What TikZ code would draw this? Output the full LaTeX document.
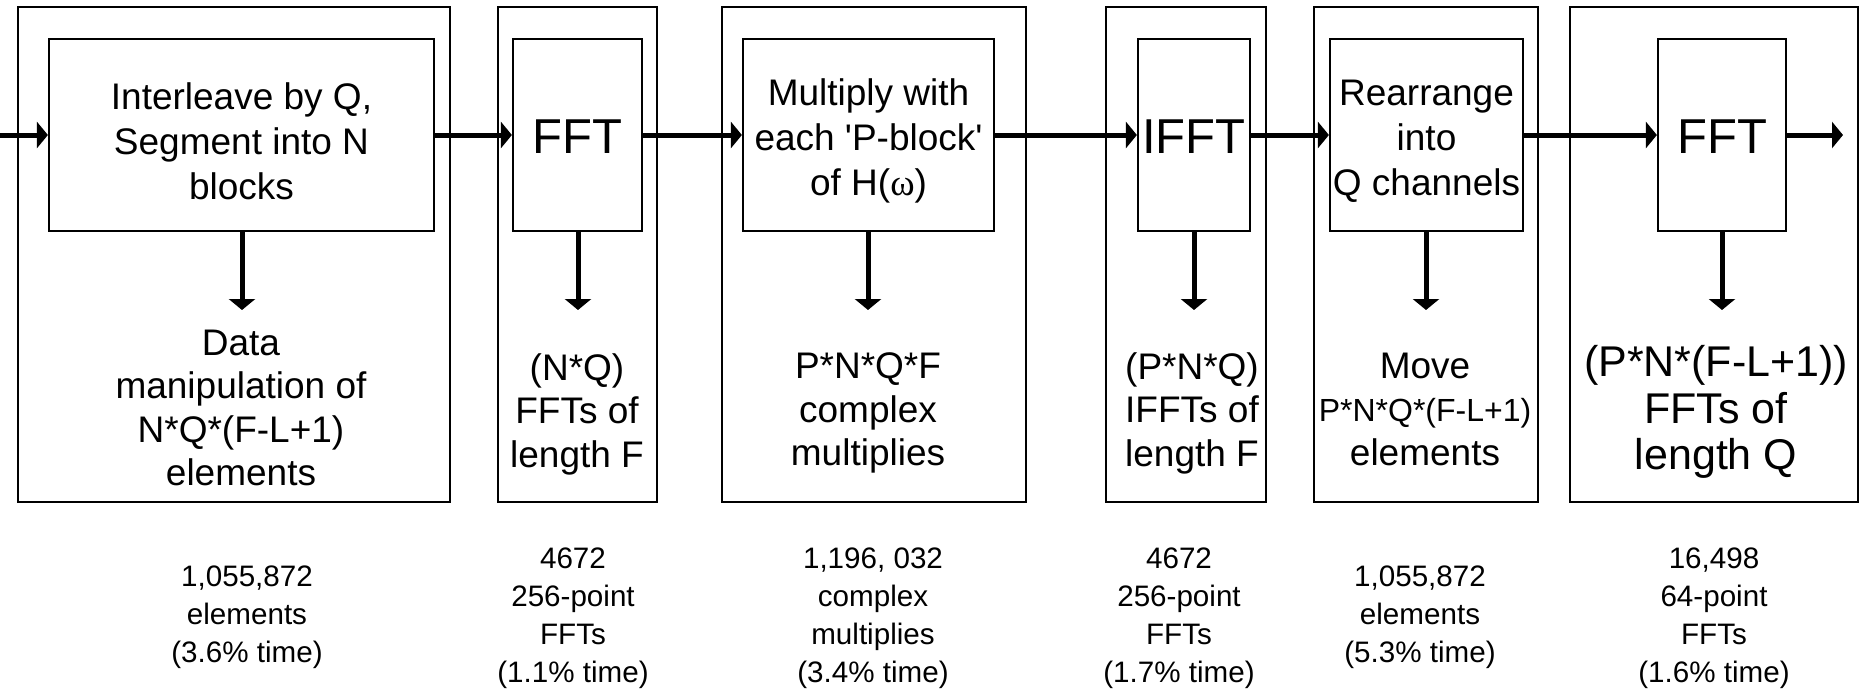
\documentclass[tikz,border=0pt]{standalone}
\usepackage{fontspec}
\setmainfont{Liberation Sans}
\newfontfamily\greekserif{Liberation Serif}
\usetikzlibrary{arrows.meta}

\begin{document}
\begin{tikzpicture}[x=0.5pt,y=-0.5pt,
  frame/.style={draw, line width=1.1pt, inner sep=0pt, minimum height=247.5pt},
  stagebox/.style={draw, line width=1.1pt, inner sep=0pt, minimum height=96pt},
  stagetext/.style={align=center, inner sep=0pt, font=\fontsize{18.5}{22.5}\selectfont},
  bigtext/.style={inner sep=0pt, font=\fontsize{24.5}{28}\selectfont},
  desc/.style={align=center, inner sep=0pt, font=\fontsize{18.5}{21.75}\selectfont},
  bigdesc/.style={align=center, inner sep=0pt, font=\fontsize{21.5}{23.4}\selectfont},
  cost/.style={align=center, inner sep=0pt, font=\fontsize{14.8}{19}\selectfont},
  flow/.style={line width=2.5pt, -{Triangle[length=5.5pt,width=13pt]}}
]
\useasboundingbox (0,0) rectangle (1862,693);

% outer frames of the six stages
\node[frame, minimum width=216pt]  (o1) at (234,254.5) {};
\node[frame, minimum width=79.5pt] (o2) at (577.5,254.5) {};
\node[frame, minimum width=152pt]  (o3) at (874,254.5) {};
\node[frame, minimum width=80pt]   (o4) at (1186,254.5) {};
\node[frame, minimum width=112pt]  (o5) at (1426,254.5) {};
\node[frame, minimum width=144pt]  (o6) at (1714,254.5) {};

% processing blocks
\node[stagebox, minimum width=192.5pt] (b1) at (241.5,135) {};
\node[stagebox, minimum width=64.5pt]  (b2) at (577.5,135) {};
\node[stagebox, minimum width=125.5pt] (b3) at (868.5,135) {};
\node[stagebox, minimum width=56pt]    (b4) at (1194,135) {};
\node[stagebox, minimum width=96.5pt]  (b5) at (1426.5,135) {};
\node[stagebox, minimum width=64pt]    (b6) at (1722,135) {};

% block captions, set a little below the block centres
\node[stagetext] (b1t) at ([yshift=-3.2pt]b1.center) {Interleave by Q,\\Segment into N\\blocks};
\node[bigtext]   (b2t) at ([yshift=-1pt]b2.center) {FFT};
\node[stagetext] (b3t) at ([yshift=-3.2pt]b3.center) {Multiply with\\each \textquotesingle P-block\textquotesingle\\of H({\greekserif ω})};
\node[bigtext]   (b4t) at ([yshift=-1pt]b4.center) {IFFT};
\node[stagetext] (b5t) at ([yshift=-3.2pt]b5.center) {Rearrange\\into\\Q channels};
\node[bigtext]   (b6t) at ([yshift=-1pt]b6.center) {FFT};

% signal path
\coordinate (in0) at (0,135);
\coordinate (out0) at (1843,135);
\draw[flow] (in0) -- (b1);
\draw[flow] (b1) -- (b2);
\draw[flow] (b2) -- (b3);
\draw[flow] (b3) -- (b4);
\draw[flow] (b4) -- (b5);
\draw[flow] (b5) -- (b6);
\draw[flow] (b6) -- (out0);

% operation counts inside each frame
\coordinate (t1) at (242,310);
\coordinate (t2) at (578,310);
\coordinate (t3) at (868,310);
\coordinate (t4) at (1194,310);
\coordinate (t5) at (1426,310);
\coordinate (t6) at (1722,310);
\draw[flow] (b1.south -| t1) -- (t1);
\draw[flow] (b2.south -| t2) -- (t2);
\draw[flow] (b3.south -| t3) -- (t3);
\draw[flow] (b4.south -| t4) -- (t4);
\draw[flow] (b5.south -| t5) -- (t5);
\draw[flow] (b6.south -| t6) -- (t6);

\node[desc] (d1) at (241,408) {Data\\manipulation of\\N*Q*(F-L+1)\\elements};
\node[desc] (d2) at (577,414) {(N*Q)\\FFTs of\\length F};
\node[desc] (d3) at (868,413) {P*N*Q*F\\complex\\multiplies};
\node[desc] (d4) at (1192,413) {(P*N*Q)\\IFFTs of\\length F};
\node[desc] (d5) at (1425,409) {Move\\{\fontsize{16}{20}\selectfont P*N*Q*(F-L+1)}\\elements};
\node[bigdesc] (d6) at (1716,412) {(P*N*(F-L+1))\\FFTs of\\length Q};

% measured figures below the frames
\node[cost] (c1) at (247,617) {1,055,872\\elements\\(3.6\% time)};
\node[cost] (c2) at (573,618) {4672\\256-point\\FFTs\\(1.1\% time)};
\node[cost] (c3) at (873,618) {1,196, 032\\complex\\multiplies\\(3.4\% time)};
\node[cost] (c4) at (1179,618) {4672\\256-point\\FFTs\\(1.7\% time)};
\node[cost] (c5) at (1420,617) {1,055,872\\elements\\(5.3\% time)};
\node[cost] (c6) at (1714,618) {16,498\\64-point\\FFTs\\(1.6\% time)};
\end{tikzpicture}
\end{document}
